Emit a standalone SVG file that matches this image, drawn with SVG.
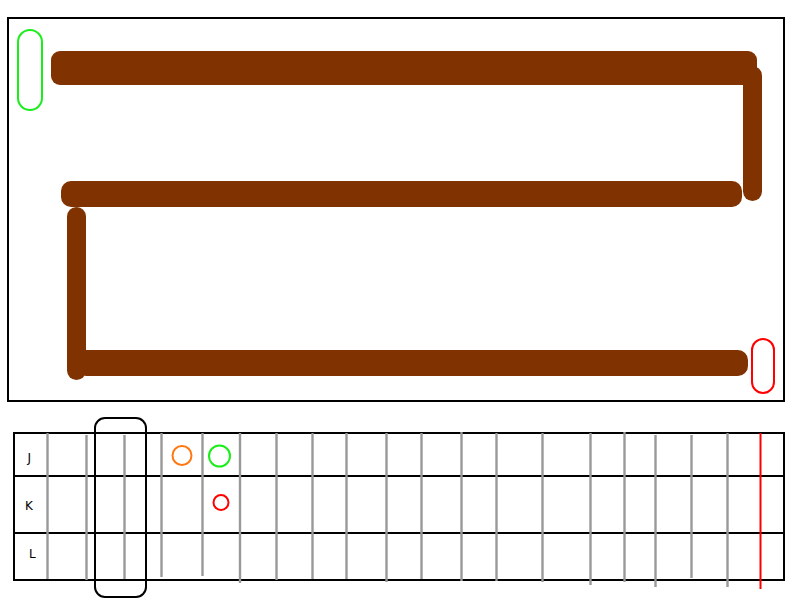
<svg xmlns="http://www.w3.org/2000/svg" width="800" height="600" viewBox="0 0 800 600">
<style>
.frame{fill:#fff;stroke:#000;stroke-width:2}
.bar{fill:#803300}
.fret{stroke:#999;stroke-width:2.4}
.lbl{font-family:"DejaVu Sans",sans-serif;font-size:12px;fill:#000}
.row{stroke:#000;stroke-width:2}
</style>
<rect width="800" height="600" fill="#fff"/>
<g id="board">
<rect class="frame" x="8" y="18" width="776" height="383"/>
</g>
<g id="start">
<rect x="18" y="30" width="24" height="80" rx="12" fill="none" stroke="#1aee1a" stroke-width="2"/>
</g>
<g id="path">
<rect class="bar" x="51" y="51" width="706" height="34" rx="9"/>
<rect class="bar" x="743" y="66" width="19" height="135" rx="9.5"/>
<rect class="bar" x="61" y="181" width="681" height="26" rx="10"/>
<rect class="bar" x="76" y="350" width="672" height="26" rx="10"/>
<rect class="bar" x="67" y="207" width="19" height="173" rx="9.5"/>
</g>
<g id="end">
<rect x="752" y="339" width="22" height="54" rx="11" fill="none" stroke="#ff0000" stroke-width="2"/>
</g>
<g id="grid">
<rect class="frame" x="14" y="433" width="770" height="147"/>
<line class="row" x1="14" y1="476" x2="784" y2="476"/>
<line class="row" x1="14" y1="533" x2="784" y2="533"/>
<text class="lbl" x="27.5" y="462">J</text>
<text class="lbl" x="25" y="510">K</text>
<text class="lbl" x="29" y="558">L</text>
</g>
<g id="frets">
<line class="fret" x1="47.5" y1="433" x2="47.5" y2="579"/>
<line class="fret" x1="86.5" y1="435" x2="86.5" y2="580"/>
<line class="fret" x1="124.5" y1="435" x2="124.5" y2="579"/>
<line class="fret" x1="161.5" y1="433" x2="161.5" y2="577"/>
<line class="fret" x1="202.5" y1="433" x2="202.5" y2="576"/>
<line class="fret" x1="240" y1="433" x2="240" y2="583"/>
<line class="fret" x1="276.5" y1="433" x2="276.5" y2="580"/>
<line class="fret" x1="312.5" y1="433" x2="312.5" y2="579"/>
<line class="fret" x1="346.5" y1="433" x2="346.5" y2="579"/>
<line class="fret" x1="386.5" y1="433" x2="386.5" y2="582"/>
<line class="fret" x1="421.5" y1="433" x2="421.5" y2="579"/>
<line class="fret" x1="461.5" y1="432" x2="461.5" y2="581"/>
<line class="fret" x1="496.5" y1="433" x2="496.5" y2="581"/>
<line class="fret" x1="542.5" y1="433" x2="542.5" y2="582"/>
<line class="fret" x1="590.5" y1="433" x2="590.5" y2="585"/>
<line class="fret" x1="624.5" y1="432" x2="624.5" y2="582"/>
<line class="fret" x1="655.5" y1="435" x2="655.5" y2="587"/>
<line class="fret" x1="691.5" y1="435" x2="691.5" y2="578"/>
<line class="fret" x1="727.5" y1="433" x2="727.5" y2="587"/>
<line x1="760.5" y1="433" x2="760.5" y2="589" stroke="#ff0000" stroke-width="2"/>
</g>
<g id="selector">
<rect x="95" y="418" width="51" height="179" rx="10" fill="none" stroke="#000" stroke-width="2"/>
</g>
<g id="markers">
<circle cx="182" cy="455.5" r="9.5" fill="none" stroke="#ff7711" stroke-width="2"/>
<circle cx="219.5" cy="456" r="10.5" fill="none" stroke="#1aee1a" stroke-width="2"/>
<circle cx="221" cy="502.5" r="7.5" fill="none" stroke="#ff0000" stroke-width="2"/>
</g>
</svg>
